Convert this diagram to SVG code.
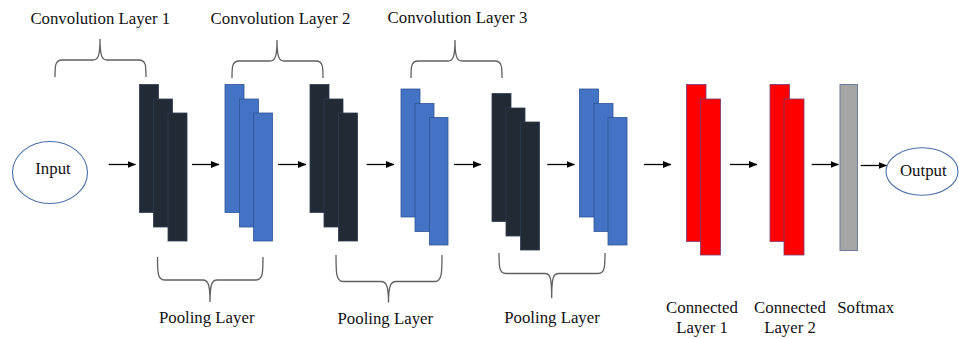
<svg xmlns="http://www.w3.org/2000/svg" width="959" height="339" viewBox="0 0 959 339" font-family="'Liberation Serif', 'DejaVu Serif', serif">
<defs>
<marker id="ah" markerWidth="9" markerHeight="7" refX="8" refY="3.5" orient="auto" markerUnits="userSpaceOnUse">
<path d="M0,0 L8.5,3.5 L0,7 Z" fill="#000"/>
</marker>
</defs>
<style>
.lbl{font-family:"Liberation Serif","DejaVu Serif",serif;font-size:16.8px;fill:#111;}
.conv{fill:#222a35;stroke:#2f3b50;stroke-width:0.8;}
.pool{fill:#4472c4;stroke:#2f5597;stroke-width:0.8;}
.fc{fill:#ff0000;stroke:#7a3a70;stroke-width:0.8;}
.soft{fill:#a6a6a6;stroke:#6b7d99;stroke-width:1;}
.ell{fill:#fff;stroke:#4a6fa8;stroke-width:1.1;}
.brace{fill:none;stroke:#606060;stroke-width:1.3;}
.arr{stroke:#000;stroke-width:1.3;fill:none;marker-end:url(#ah);}
</style>
<rect width="959" height="339" fill="#fff"/>

<g id="input">
<ellipse class="ell" cx="50" cy="172.5" rx="37.5" ry="31"/>
<text class="lbl" x="53" y="173.5" text-anchor="middle">Input</text>
</g>

<g id="conv1">
<rect class="conv" x="139.5" y="84.5" width="19" height="128"/>
<rect class="conv" x="153.5" y="99" width="19" height="128"/>
<rect class="conv" x="168" y="113" width="19" height="128"/>
</g>
<g id="pool1">
<rect class="pool" x="225" y="84.5" width="19" height="128"/>
<rect class="pool" x="239.5" y="99" width="19" height="128"/>
<rect class="pool" x="253.5" y="113" width="19" height="128"/>
</g>
<g id="conv2">
<rect class="conv" x="310" y="84.5" width="19" height="128"/>
<rect class="conv" x="324" y="99" width="19" height="128"/>
<rect class="conv" x="338.5" y="113" width="19" height="128"/>
</g>
<g id="pool2">
<rect class="pool" x="401" y="89" width="19" height="128"/>
<rect class="pool" x="415" y="103.5" width="19" height="128"/>
<rect class="pool" x="429.5" y="117.5" width="18.5" height="127.5"/>
</g>
<g id="conv3">
<rect class="conv" x="492" y="93.5" width="19" height="128"/>
<rect class="conv" x="506" y="108" width="19" height="128"/>
<rect class="conv" x="520.5" y="122" width="19" height="128"/>
</g>
<g id="pool3">
<rect class="pool" x="579.5" y="89" width="19" height="128"/>
<rect class="pool" x="594" y="103.5" width="19" height="128"/>
<rect class="pool" x="608" y="117.5" width="19" height="127.5"/>
</g>
<g id="fc1">
<rect class="fc" x="686.5" y="84.5" width="19.5" height="157"/>
<rect class="fc" x="700.5" y="99" width="20" height="156"/>
<text class="lbl" x="702" y="312.7" text-anchor="middle">Connected</text>
<text class="lbl" x="702" y="332.7" text-anchor="middle">Layer 1</text>
</g>
<g id="fc2">
<rect class="fc" x="770" y="84.5" width="19.5" height="157"/>
<rect class="fc" x="784" y="99" width="20" height="156"/>
<text class="lbl" x="790" y="312.7" text-anchor="middle">Connected</text>
<text class="lbl" x="790" y="332.7" text-anchor="middle">Layer 2</text>
</g>
<g id="softmax">
<rect class="soft" x="840" y="84.5" width="17.5" height="166"/>
<text class="lbl" x="865.7" y="312.7" text-anchor="middle">Softmax</text>
</g>
<g id="output">
<ellipse class="ell" cx="922" cy="171.5" rx="36" ry="23.8"/>
<text class="lbl" x="923.3" y="176" text-anchor="middle">Output</text>
</g>

<g id="conv-label-1">
<path class="brace" d="M55,77 C55,66 55,60 62,60 L93,60 C98,60 100,56 100,39 C100,56 102,60 107,60 L139,60 C146,60 146,66 146,77"/>
<text class="lbl" x="100.3" y="24" text-anchor="middle">Convolution Layer 1</text>
</g>
<g id="conv-label-2">
<path class="brace" d="M232,78 C232,67 232,61 239,61 L270,61 C275,61 277,57 277,40 C277,57 279,61 284,61 L316,61 C323,61 323,67 323,78"/>
<text class="lbl" x="280.5" y="24" text-anchor="middle">Convolution Layer 2</text>
</g>
<g id="conv-label-3">
<path class="brace" d="M411,78 C411,67 411,61 418,61 L448,61 C453,61 455,57 455,40 C455,57 457,61 462,61 L495,61 C502,61 502,67 502,78"/>
<text class="lbl" x="457.5" y="23" text-anchor="middle">Convolution Layer 3</text>
</g>
<g id="pool-label-1">
<path class="brace" d="M157.5,257 C157.5,272 157.5,280 164.5,280 L203,280 C208,280 210,284 210,302 C210,284 212,280 217,280 L256,280 C263,280 263,272 263,257"/>
<text class="lbl" x="206.7" y="323.3" text-anchor="middle">Pooling Layer</text>
</g>
<g id="pool-label-2">
<path class="brace" d="M336,255 C336,272 336,281.5 343,281.5 L381,281.5 C386,281.5 388.5,285 388.5,302.5 C388.5,285 391,281.5 396,281.5 L435,281.5 C442,281.5 442,272 442,255"/>
<text class="lbl" x="385.3" y="324.3" text-anchor="middle">Pooling Layer</text>
</g>
<g id="pool-label-3">
<path class="brace" d="M499,253 C499,266 499,273.5 506,273.5 L545,273.5 C550,273.5 551.7,277 551.7,298.3 C551.7,277 553.5,273.5 558.5,273.5 L598,273.5 C605,273.5 605,266 605,253"/>
<text class="lbl" x="552" y="323.3" text-anchor="middle">Pooling Layer</text>
</g>

<g id="connectors">
<line class="arr" x1="108.7" y1="164.5" x2="135.5" y2="164.5"/>
<line class="arr" x1="192" y1="164.5" x2="219" y2="164.5"/>
<line class="arr" x1="278" y1="164.5" x2="306" y2="164.5"/>
<line class="arr" x1="366.7" y1="164.5" x2="394" y2="164.5"/>
<line class="arr" x1="454" y1="164.5" x2="481" y2="164.5"/>
<line class="arr" x1="547.3" y1="164.5" x2="574.5" y2="164.5"/>
<line class="arr" x1="644" y1="164.5" x2="671" y2="164.5"/>
<line class="arr" x1="730" y1="164.5" x2="757" y2="164.5"/>
<line class="arr" x1="811.7" y1="164.5" x2="838.5" y2="164.5"/>
<line class="arr" x1="860.7" y1="165.5" x2="886.5" y2="165.5"/>
</g>
</svg>
